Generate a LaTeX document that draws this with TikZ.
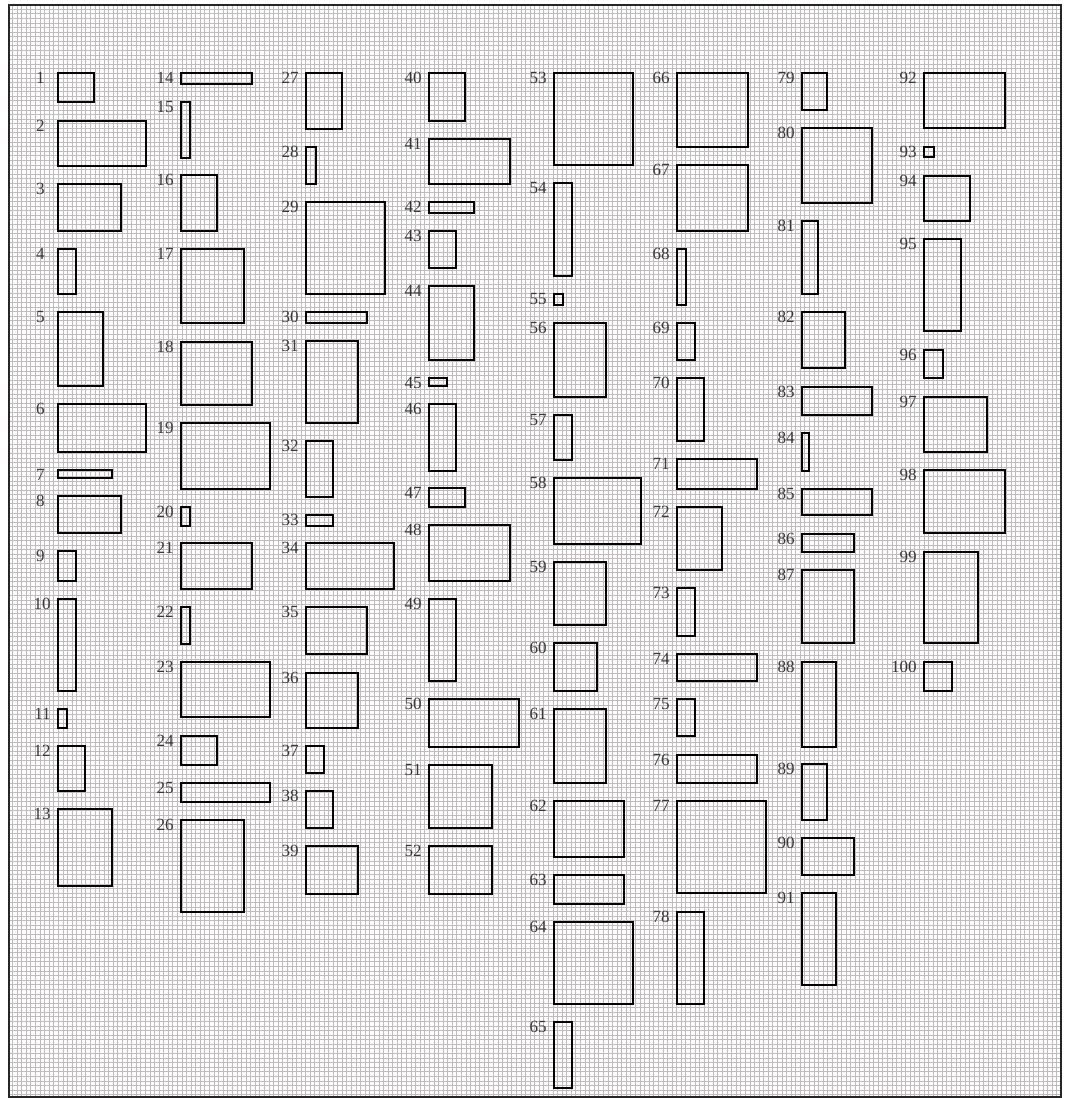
\documentclass[tikz,border=0pt]{standalone}
\usepackage{fontspec}
\setmainfont{Liberation Serif}
\definecolor{gridgray}{RGB}{192,188,190}
\tikzset{
  gridline/.style={draw=gridgray, line width=0.55pt},
  itembox/.style={draw=black, line width=1.4pt},
  itemlabel/.style={anchor=north east, inner sep=0pt, text=black!78,
    font=\fontsize{12.8}{14}\selectfont},
}
\begin{document}
\begin{tikzpicture}[x=0.75pt,y=-0.75pt]
\useasboundingbox (0,0) rectangle (1066,1098);
% background grid
\begin{scope}
  \clip (9,5) rectangle (1060.5,1096.5);
  \foreach \k in {-11,...,220}
    \draw[gridline] ({58.3+\k*4.58},0) -- ({58.3+\k*4.58},1098);
  \foreach \k in {-15,...,225}
    \draw[gridline] (0,{73.3+\k*4.58}) -- (1066,{73.3+\k*4.58});
\end{scope}
\draw[black!85, line width=1.5pt] (9,5) rectangle (1060.5,1096.5);
% items: number/left/top/right/bottom
\foreach \n/\xa/\ya/\xb/\yb in {
  1/58/73/94/102, 2/58/121/146/166, 3/58/184/121/231, 4/58/249/76/294,
  5/58/312/103/386, 6/58/404/146/452, 7/58/470/112/478, 8/58/496/121/533,
  9/58/551/76/581, 10/58/599/76/691, 11/58/709/67/728, 12/58/746/85/791,
  13/58/809/112/886,
  14/181/73/252/84, 15/181/102/190/158, 16/181/175/217/231, 17/181/249/244/323,
  18/181/342/252/405, 19/181/423/270/489, 20/181/507/190/526, 21/181/543/252/589,
  22/181/607/190/644, 23/181/662/270/717, 24/181/736/217/765, 25/181/783/270/802,
  26/181/820/244/912,
  27/306/73/342/129, 28/306/147/316/184, 29/306/202/385/294, 30/306/312/367/323,
  31/306/341/358/423, 32/306/441/333/497, 33/306/515/333/526, 34/306/543/394/589,
  35/306/607/367/654, 36/306/673/358/728, 37/306/746/324/773, 38/306/791/333/828,
  39/306/846/358/894,
  40/429/73/465/121, 41/429/139/510/184, 42/429/202/474/213, 43/429/231/456/268,
  44/429/286/474/360, 45/429/378/447/386, 46/429/404/456/471, 47/429/488/465/507,
  48/429/525/510/581, 49/429/599/456/681, 50/429/699/519/747, 51/429/765/492/828,
  52/429/846/492/894,
  53/554/73/633/165, 54/554/183/572/276, 55/554/294/563/305, 56/554/323/606/397,
  57/554/415/572/460, 58/554/478/641/544, 59/554/562/606/625, 60/554/643/597/691,
  61/554/709/606/783, 62/554/801/624/857, 63/554/875/624/904, 64/554/922/633/1004,
  65/554/1022/572/1088,
  66/677/73/748/147, 67/677/165/748/231, 68/677/249/686/305, 69/677/323/695/360,
  70/677/378/704/441, 71/677/459/757/489, 72/677/507/722/570, 73/677/588/695/636,
  74/677/654/757/681, 75/677/699/695/736, 76/677/755/757/783, 77/677/801/766/893,
  78/677/912/704/1004,
  79/802/73/827/110, 80/802/128/872/203, 81/802/221/818/294, 82/802/312/845/368,
  83/802/387/872/415, 84/802/433/809/471, 85/802/489/872/515, 86/802/534/854/552,
  87/802/570/854/643, 88/802/662/836/747, 89/802/764/827/820, 90/802/838/854/875,
  91/802/893/836/985,
  92/924/73/1005/128, 93/924/147/934/157, 94/924/176/970/221, 95/924/239/961/331,
  96/924/350/943/378, 97/924/397/987/452, 98/924/470/1005/533, 99/924/552/978/643,
  100/924/662/952/691}{
  \draw[itembox] (\xa,\ya) rectangle (\xb,\yb);
  \pgfmathsetmacro\lx{\n<10 ? \xa-13 : \xa-7}
  \node[itemlabel] (lbl\n) at (\lx,\ya-1) {\n};
}
\end{tikzpicture}
\end{document}
